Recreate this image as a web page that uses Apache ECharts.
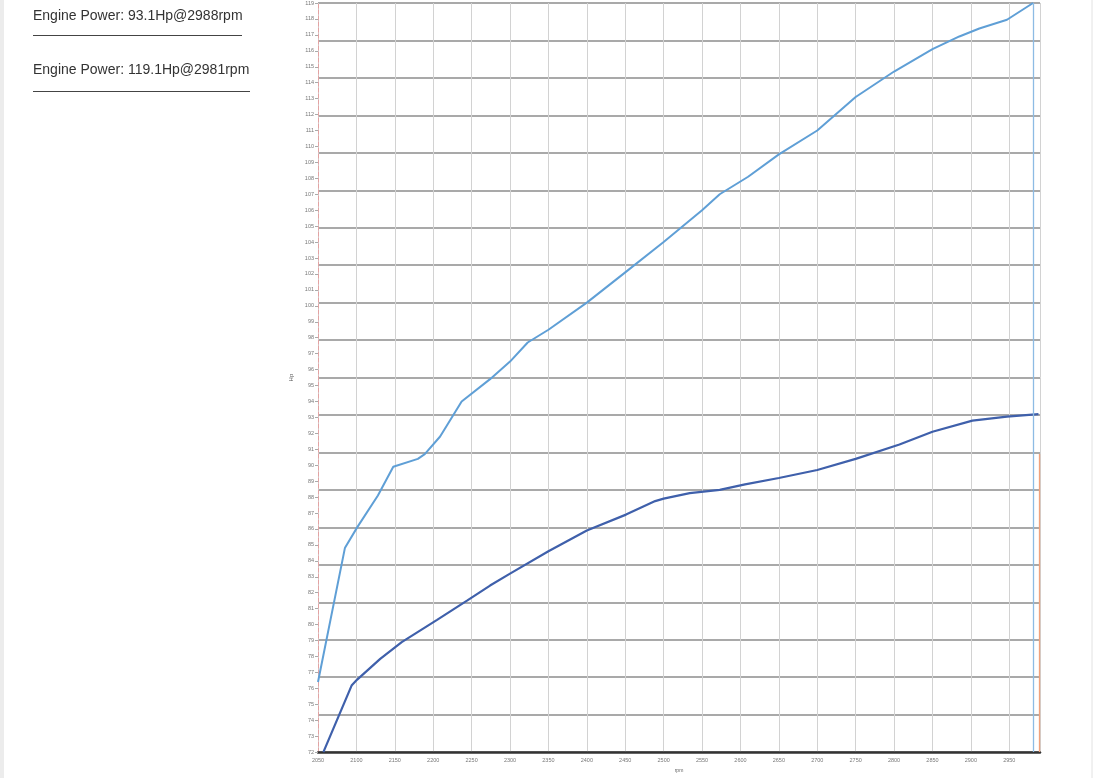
<!DOCTYPE html>
<html>
<head>
<meta charset="utf-8">
<script src="https://cdn.jsdelivr.net/npm/echarts@6/dist/echarts.min.js"></script>
<style>
  html, body { margin: 0; padding: 0; background: #ffffff; }
  #chart { width: 1100px; height: 778px; }
</style>
</head>
<body>
<div id="chart"></div>
<script>
// ---- data ----
const seriesNames = ['Engine Power: 93.1Hp@2988rpm', 'Engine Power: 119.1Hp@2981rpm'];
const peakRpm = [2988, 2981];

// light blue curve (119.1 Hp run)
const rpmLight = [2050, 2085, 2101, 2128, 2148, 2180, 2189, 2209, 2237, 2274, 2300, 2323, 2350, 2400, 2450, 2500, 2550, 2573, 2610, 2650, 2700, 2750, 2800, 2850, 2885, 2911, 2947, 2981];
const hpLight  = [76.4, 84.8, 86.1, 88.1, 89.9, 90.4, 90.7, 91.8, 94.0, 95.4, 96.5, 97.7, 98.5, 100.2, 102.1, 104.0, 106.0, 107.0, 108.1, 109.5, 111.0, 113.1, 114.7, 116.1, 116.9, 117.4, 117.95, 119.0];

// dark blue curve (93.1 Hp run)
const rpmDark = [2057, 2094, 2101, 2131, 2159, 2205, 2244, 2274, 2300, 2350, 2400, 2451, 2489, 2500, 2534, 2573, 2606, 2650, 2700, 2750, 2807, 2850, 2902, 2947, 2988];
const hpDark  = [72.0, 76.2, 76.55, 77.85, 78.9, 80.3, 81.5, 82.45, 83.2, 84.6, 85.9, 86.9, 87.75, 87.9, 88.25, 88.45, 88.8, 89.2, 89.7, 90.4, 91.3, 92.1, 92.8, 93.05, 93.2];

const xMin = 2050, xMax = 2990, xStep = 50;
const yMin = 72, yMax = 119, yStep = 1;
const majorDivisions = 20;

const zip = (xs, ys) => xs.map((x, i) => [x, ys[i]]);

const chart = echarts.init(document.getElementById('chart'), null, { renderer: 'canvas' });

const option = {
  backgroundColor: '#ffffff',
  animation: false,
  grid: { left: 318, right: 60, top: 3, bottom: 20, containLabel: false },
  xAxis: {
    type: 'value',
    min: xMin, max: xMax, interval: xStep,
    name: 'rpm',
    nameLocation: 'middle',
    nameGap: 14,
    nameTextStyle: { fontSize: 5, color: '#666', fontFamily: 'Liberation Sans' },
    axisLine: { show: true, onZero: false, lineStyle: { color: '#333', width: 2.5 } },
    axisTick: { show: false },
    axisLabel: { fontSize: 5.5, color: '#777', margin: 5, showMaxLabel: false, fontFamily: 'Liberation Sans',
                 formatter: v => String(v) },
    splitLine: { show: true, lineStyle: { color: '#d2d2d2', width: 1 } }
  },
  yAxis: [
    {
      type: 'value',
      min: yMin, max: yMax, interval: yStep,
      name: 'Hp',
      nameLocation: 'middle',
      nameRotate: 90,
      nameGap: 22,
      nameTextStyle: { fontSize: 6, color: '#555', fontFamily: 'Liberation Sans' },
      axisLine: { show: true, onZero: false, lineStyle: { color: '#e3a3a3', width: 1, type: 'dashed' } },
      axisTick: { show: true, length: 3, lineStyle: { color: '#aaa' } },
      axisLabel: { fontSize: 5.5, color: '#777', margin: 4, fontFamily: 'Liberation Sans' },
      splitLine: { show: false }
    },
    {
      type: 'value',
      min: 0, max: majorDivisions, interval: 1,
      position: 'left',
      axisLine: { show: false },
      axisTick: { show: false },
      axisLabel: { show: false },
      splitLine: { show: true, lineStyle: { color: '#8c8c8c', width: 1.5 } }
    }
  ],
  series: [
    {
      name: seriesNames[1],
      type: 'line',
      data: zip(rpmLight, hpLight),
      showSymbol: false,
      smooth: false,
      lineStyle: { color: '#5f9fd6', width: 2 },
      itemStyle: { color: '#5f9fd6' },
      markLine: {
        silent: true,
        symbol: 'none',
        label: { show: false },
        lineStyle: { color: '#8dbbe4', width: 1.3, type: 'solid' },
        data: [{ xAxis: peakRpm[1] }]
      },
      z: 3
    },
    {
      name: seriesNames[0],
      type: 'line',
      data: zip(rpmDark, hpDark),
      showSymbol: false,
      smooth: false,
      lineStyle: { color: '#3f60ab', width: 2.2 },
      itemStyle: { color: '#3f60ab' },
      markLine: {
        silent: true,
        symbol: 'none',
        label: { show: false },
        lineStyle: { color: '#f1a27c', width: 1.3, type: 'solid' },
        data: [[{ coord: [xMax - 1, yMin] }, { coord: [xMax - 1, 90.7] }]]
      },
      z: 4
    }
  ],
  graphic: [
    { type: 'rect', left: 0, top: 0, shape: { width: 4, height: 778 }, style: { fill: '#ececec' }, silent: true },
    { type: 'line', shape: { x1: 1092, y1: 0, x2: 1092, y2: 778 }, style: { stroke: '#e2e2e2', lineWidth: 1 }, silent: true },
    {
      type: 'text', left: 33, top: 9,
      style: { text: seriesNames[0], fontSize: 14, fill: '#333', fontFamily: 'Liberation Sans' }
    },
    { type: 'line', shape: { x1: 33, y1: 35.5, x2: 242, y2: 35.5 }, style: { stroke: '#444', lineWidth: 1 } },
    {
      type: 'text', left: 33, top: 63,
      style: { text: seriesNames[1], fontSize: 14, fill: '#333', fontFamily: 'Liberation Sans' }
    },
    { type: 'line', shape: { x1: 33, y1: 91.5, x2: 250, y2: 91.5 }, style: { stroke: '#444', lineWidth: 1 } }
  ]
};

chart.setOption(option);
</script>
</body>
</html>
